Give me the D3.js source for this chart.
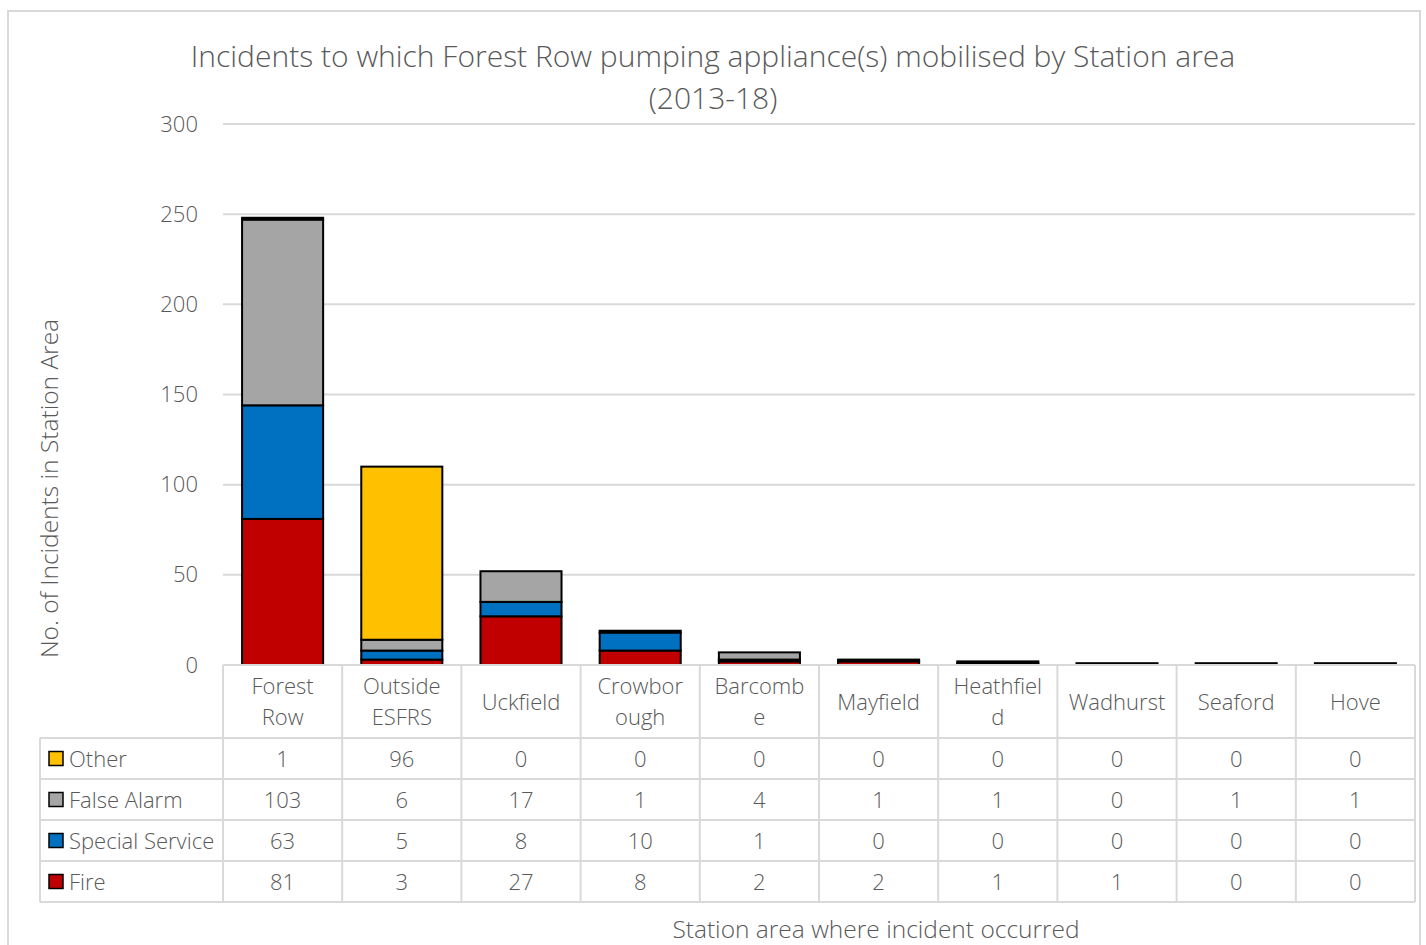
<!DOCTYPE html>
<html>
<head>
<meta charset="utf-8">
<script src="https://cdn.jsdelivr.net/npm/d3@7"></script>
<style>
  html, body { margin: 0; padding: 0; background: #fff; }
  svg { display: block; }
  text { font-family: "Segoe UI Light", "Segoe UI", "Open Sans", "Lato", sans-serif; font-weight: 300; fill: #595959; }
</style>
</head>
<body>
<svg id="chart" width="1426" height="945"></svg>
<script>
(function () {
// Station areas (table header lines as they wrap in the narrow columns)
const categories = ["Forest Row", "Outside ESFRS", "Uckfield", "Crowborough", "Barcombe",
                    "Mayfield", "Heathfield", "Wadhurst", "Seaford", "Hove"];
const categoryLines = [["Forest", "Row"], ["Outside", "ESFRS"], ["Uckfield"], ["Crowbor", "ough"],
                       ["Barcomb", "e"], ["Mayfield"], ["Heathfiel", "d"], ["Wadhurst"], ["Seaford"], ["Hove"]];

// Incident counts per series
const fire           = [81, 3, 27, 8, 2, 2, 1, 1, 0, 0];
const specialService = [63, 5, 8, 10, 1, 0, 0, 0, 0, 0];
const falseAlarm     = [103, 6, 17, 1, 4, 1, 1, 0, 1, 1];
const other          = [1, 96, 0, 0, 0, 0, 0, 0, 0, 0];

const seriesNames  = ["Fire", "Special Service", "False Alarm", "Other"];
const seriesColors = ["#C00000", "#0070C0", "#A5A5A5", "#FFC000"];
const seriesValues = [fire, specialService, falseAlarm, other];

const yTicks = [0, 50, 100, 150, 200, 250, 300];

const svg = d3.select("#chart");

// Chart frame
svg.append("rect")
  .attr("x", 8).attr("y", 11).attr("width", 1412).attr("height", 960)
  .attr("fill", "#fff").attr("stroke", "#d9d9d9").attr("stroke-width", 2);

// Title
svg.append("text").attr("x", 713).attr("y", 67).attr("text-anchor", "middle")
  .style("font-size", "30px").text("Incidents to which Forest Row pumping appliance(s) mobilised by Station area");
svg.append("text").attr("x", 713).attr("y", 109).attr("text-anchor", "middle")
  .style("font-size", "30px").text("(2013-18)");

const plotLeft = 223, plotRight = 1415, plotTop = 124, plotBottom = 665;

const x = d3.scaleBand().domain(categories).range([plotLeft, plotRight]).paddingInner(0.32).paddingOuter(0.16);
const xCol = d3.scaleBand().domain(categories).range([plotLeft, plotRight]);
const y = d3.scaleLinear().domain([0, 300]).range([plotBottom, plotTop]);

// Gridlines
svg.append("g").selectAll("line").data(yTicks.filter(t => t > 0)).join("line")
  .attr("x1", plotLeft).attr("x2", plotRight)
  .attr("y1", d => y(d)).attr("y2", d => y(d))
  .attr("stroke", "#d9d9d9").attr("stroke-width", 2);

// Y axis tick labels
const yAxis = d3.axisLeft(y).tickValues(yTicks).tickSize(0).tickPadding(0);
const yg = svg.append("g").attr("transform", `translate(${plotLeft - 25},0)`).call(yAxis);
yg.select(".domain").remove();
yg.attr("font-family", null).attr("font-size", null);
yg.selectAll("text").style("font-size", "22px").attr("fill", "#595959");

// Y axis title
svg.append("text")
  .attr("transform", `translate(58,${(plotTop + plotBottom) / 2 + 94}) rotate(-90)`)
  .attr("text-anchor", "middle").style("font-size", "24.5px")
  .text("No. of Incidents in Station Area");

// Stacked bars
const rows = categories.map((c, i) => {
  const r = { category: c };
  seriesNames.forEach((s, k) => r[s] = seriesValues[k][i]);
  return r;
});
const stack = d3.stack().keys(seriesNames)(rows);

svg.append("g").selectAll("g").data(stack).join("g")
  .attr("fill", (d, k) => seriesColors[k])
  .selectAll("rect").data(d => d).join("rect")
  .attr("x", d => x(d.data.category))
  .attr("width", x.bandwidth())
  .attr("y", d => y(d[1]))
  .attr("height", d => y(d[0]) - y(d[1]))
  .attr("stroke", "#000").attr("stroke-width", 2);

// Data table
const tableLeft = 40;
const headerBottom = 738;
const rowH = 41;
const tableRows = ["Other", "False Alarm", "Special Service", "Fire"];
const tableBottom = headerBottom + rowH * tableRows.length;
const grid = svg.append("g").attr("stroke", "#d9d9d9").attr("stroke-width", 2);

grid.append("line").attr("x1", plotLeft).attr("x2", plotRight).attr("y1", plotBottom).attr("y2", plotBottom);
d3.range(tableRows.length + 1).forEach(r => {
  grid.append("line").attr("x1", tableLeft).attr("x2", plotRight)
    .attr("y1", headerBottom + r * rowH).attr("y2", headerBottom + r * rowH);
});
grid.append("line").attr("x1", tableLeft).attr("x2", tableLeft).attr("y1", headerBottom).attr("y2", tableBottom);
categories.forEach(c => {
  grid.append("line").attr("x1", xCol(c)).attr("x2", xCol(c)).attr("y1", plotBottom).attr("y2", tableBottom);
});
grid.append("line").attr("x1", plotRight).attr("x2", plotRight).attr("y1", plotBottom).attr("y2", tableBottom);

// header labels
categories.forEach((c, i) => {
  const lines = categoryLines[i];
  const cx = xCol(c) + xCol.bandwidth() / 2;
  const mid = (plotBottom + headerBottom) / 2;
  lines.forEach((ln, j) => {
    svg.append("text").attr("x", cx)
      .attr("y", mid + (j - (lines.length - 1) / 2) * 31 + 8)
      .attr("text-anchor", "middle").style("font-size", "22px").text(ln);
  });
});

// legend keys + values
tableRows.forEach((name, r) => {
  const k = seriesNames.indexOf(name);
  const cy = headerBottom + r * rowH + rowH / 2;
  svg.append("rect").attr("x", 49).attr("y", cy - 7).attr("width", 14).attr("height", 14)
    .attr("fill", seriesColors[k]).attr("stroke", "#000").attr("stroke-width", 1.5);
  svg.append("text").attr("x", 69).attr("y", cy + 8).style("font-size", "22px").text(name);
  categories.forEach((c, i) => {
    svg.append("text").attr("x", xCol(c) + xCol.bandwidth() / 2).attr("y", cy + 8)
      .attr("text-anchor", "middle").style("font-size", "22px").text(seriesValues[k][i]);
  });
});

// X axis title
svg.append("text").attr("x", 876).attr("y", 938).attr("text-anchor", "middle")
  .style("font-size", "24.5px").text("Station area where incident occurred");
})();
</script>
</body>
</html>
